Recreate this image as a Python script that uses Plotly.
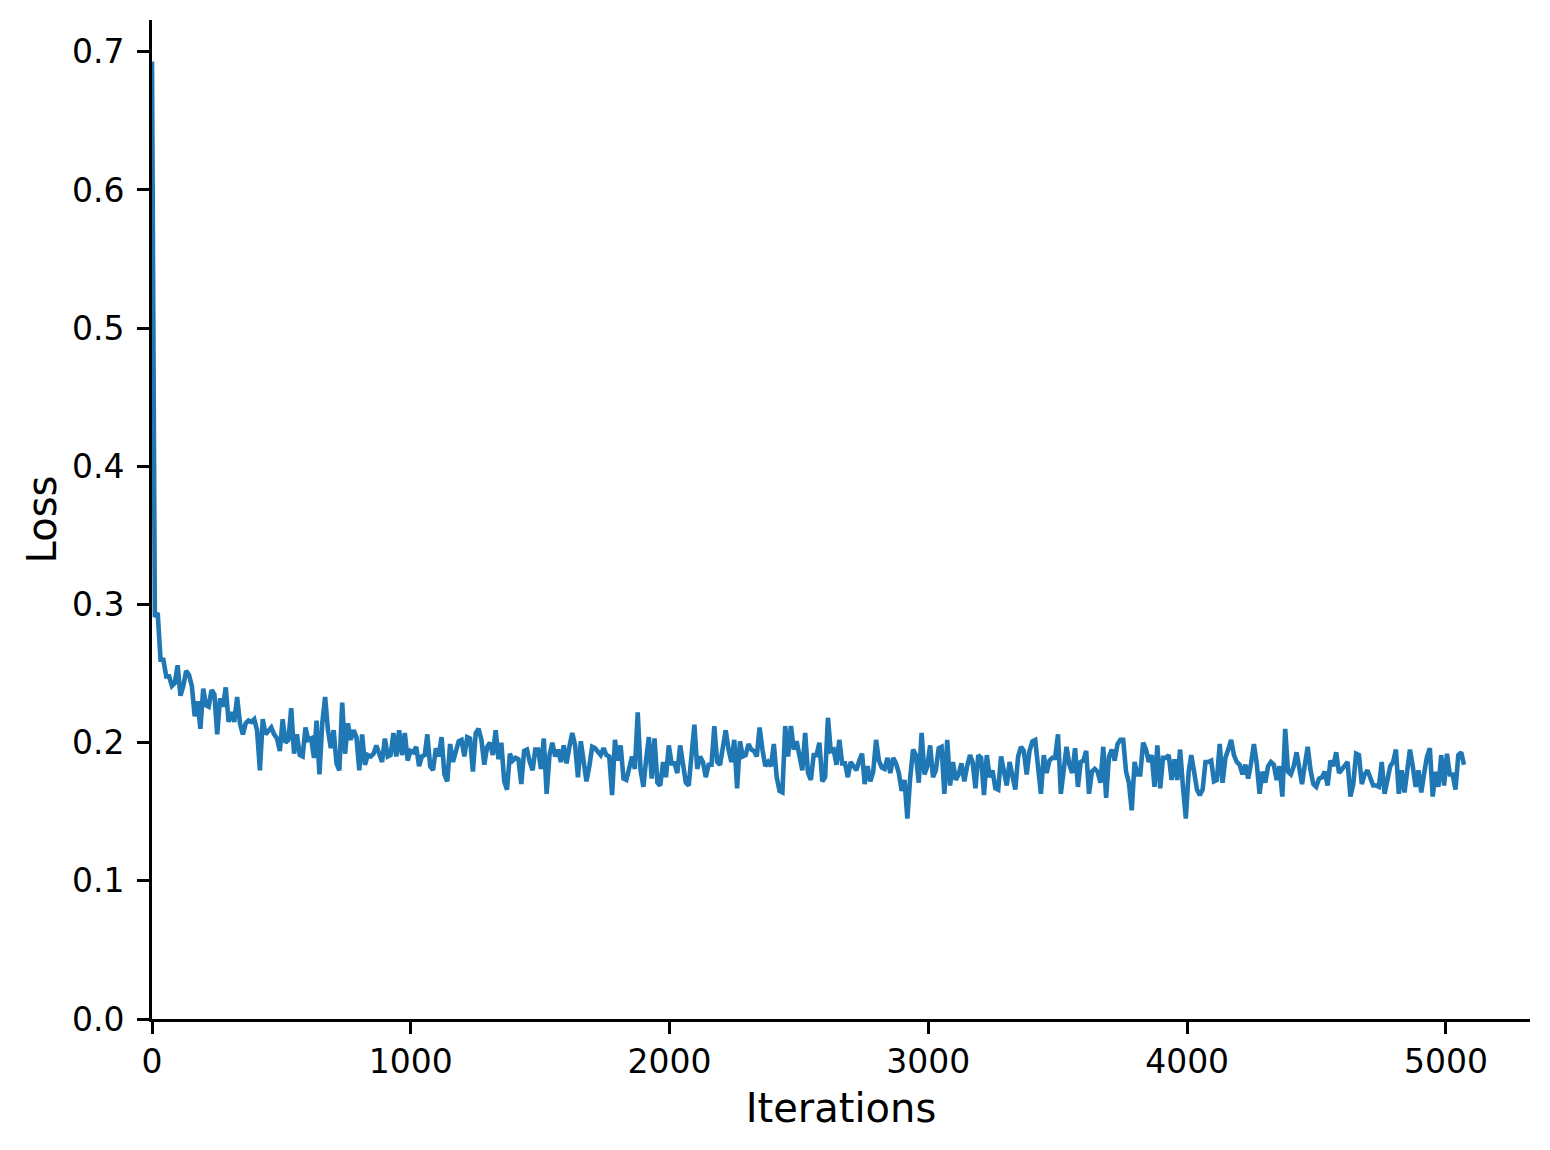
import plotly.graph_objects as go

loss = [
    0.693,
    # ~0-630
    0.291, 0.294, 0.260, 0.260, 0.248, 0.248, 0.241, 0.243, 0.256, 0.234,
    0.241, 0.252, 0.249, 0.241, 0.219, 0.230, 0.210, 0.239, 0.227, 0.226,
    0.238, 0.235, 0.206, 0.232, 0.226, 0.240, 0.215, 0.222, 0.215, 0.233,
    0.214, 0.206, 0.214, 0.216, 0.215, 0.217, 0.209, 0.180, 0.217, 0.206,
    0.208, 0.211, 0.206, 0.203, 0.194, 0.217, 0.200, 0.202, 0.225, 0.192,
    0.206, 0.191, 0.190, 0.211, 0.202, 0.203, 0.189,
    # ~630-1250
    0.216, 0.177, 0.214, 0.233, 0.209, 0.196, 0.209, 0.185, 0.180, 0.229,
    0.192, 0.214, 0.202, 0.209, 0.204, 0.180, 0.206, 0.184, 0.191, 0.190,
    0.192, 0.198, 0.192, 0.186, 0.203, 0.190, 0.191, 0.207, 0.190, 0.209,
    0.191, 0.207, 0.187, 0.194, 0.193, 0.197, 0.183, 0.190, 0.191, 0.206,
    0.183, 0.180, 0.196, 0.190, 0.204, 0.177, 0.172, 0.199, 0.186, 0.195,
    0.201, 0.202, 0.190, 0.204, 0.203, 0.179, 0.207,
    # ~1250-1880
    0.210, 0.202, 0.184, 0.197, 0.200, 0.191, 0.209, 0.188, 0.200, 0.172,
    0.166, 0.192, 0.187, 0.189, 0.188, 0.170, 0.194, 0.195, 0.186, 0.180,
    0.195, 0.195, 0.181, 0.203, 0.163, 0.191, 0.200, 0.190, 0.195, 0.186,
    0.198, 0.185, 0.197, 0.207, 0.198, 0.175, 0.201, 0.183, 0.172, 0.183,
    0.197, 0.196, 0.194, 0.191, 0.196, 0.191, 0.190, 0.162, 0.202, 0.187,
    0.198, 0.174, 0.173, 0.181, 0.190, 0.181, 0.222,
    # ~1880-2500
    0.180, 0.168, 0.187, 0.204, 0.174, 0.203, 0.171, 0.169, 0.186, 0.175,
    0.198, 0.185, 0.185, 0.178, 0.198, 0.184, 0.171, 0.169, 0.195, 0.213,
    0.181, 0.190, 0.186, 0.175, 0.184, 0.184, 0.212, 0.186, 0.184, 0.195,
    0.209, 0.195, 0.186, 0.202, 0.167, 0.201, 0.190, 0.191, 0.199, 0.195,
    0.194, 0.190, 0.211, 0.195, 0.183, 0.186, 0.183, 0.199, 0.175, 0.165,
    0.164, 0.212, 0.190, 0.212, 0.195,
    # ~2500-3120
    0.201, 0.191, 0.180, 0.207, 0.178, 0.173, 0.191, 0.191, 0.200, 0.172,
    0.175, 0.218, 0.194, 0.195, 0.184, 0.202, 0.185, 0.185, 0.175, 0.186,
    0.183, 0.180, 0.187, 0.192, 0.170, 0.183, 0.172, 0.179, 0.202, 0.187,
    0.182, 0.181, 0.189, 0.178, 0.189, 0.185, 0.178, 0.165, 0.173, 0.145,
    0.175, 0.195, 0.191, 0.171, 0.207, 0.177, 0.183, 0.198, 0.175, 0.180,
    0.196, 0.197, 0.163, 0.202, 0.169, 0.186,
    # ~3120-3740
    0.173, 0.177, 0.185, 0.172, 0.183, 0.191, 0.186, 0.167, 0.191, 0.189,
    0.162, 0.191, 0.175, 0.180, 0.167, 0.166, 0.190, 0.179, 0.169, 0.186,
    0.177, 0.166, 0.190, 0.197, 0.194, 0.177, 0.194, 0.201, 0.202, 0.180,
    0.163, 0.191, 0.178, 0.187, 0.189, 0.189, 0.206, 0.163, 0.179, 0.197,
    0.184, 0.178, 0.196, 0.168, 0.186, 0.187, 0.194, 0.163, 0.179, 0.181,
    0.179, 0.171, 0.197, 0.160, 0.190, 0.195,
    # ~3740-4360
    0.187, 0.199, 0.202, 0.202, 0.179, 0.171, 0.151, 0.186, 0.177, 0.177,
    0.200, 0.195, 0.186, 0.191, 0.168, 0.198, 0.167, 0.189, 0.189, 0.191,
    0.173, 0.188, 0.173, 0.195, 0.168, 0.145, 0.179, 0.191, 0.179, 0.166,
    0.162, 0.166, 0.186, 0.186, 0.187, 0.172, 0.173, 0.199, 0.171, 0.189,
    0.195, 0.202, 0.191, 0.186, 0.184, 0.177, 0.184, 0.174, 0.185, 0.199,
    0.185, 0.163, 0.179, 0.171, 0.183, 0.186, 0.184, 0.173,
    # ~4360-5070
    0.183, 0.161, 0.210, 0.179, 0.177, 0.183, 0.193, 0.183, 0.170, 0.184,
    0.197, 0.180, 0.170, 0.168, 0.174, 0.175, 0.179, 0.169, 0.187, 0.183,
    0.193, 0.178, 0.181, 0.184, 0.186, 0.161, 0.170, 0.192, 0.191, 0.170,
    0.177, 0.180, 0.175, 0.169, 0.169, 0.168, 0.186, 0.163, 0.173, 0.183,
    0.186, 0.195, 0.163, 0.180, 0.164, 0.179, 0.195, 0.183, 0.168, 0.180,
    0.164, 0.178, 0.190, 0.196, 0.161, 0.179, 0.168, 0.191, 0.169, 0.192,
    0.177, 0.177, 0.166, 0.191, 0.193, 0.184,
]
last_iteration = 5070
iterations = [round(i * last_iteration / (len(loss) - 1)) for i in range(len(loss))]

x_ticks = [0, 1000, 2000, 3000, 4000, 5000]
y_ticks = [0.0, 0.1, 0.2, 0.3, 0.4, 0.5, 0.6, 0.7]
y_tick_labels = ["0.0", "0.1", "0.2", "0.3", "0.4", "0.5", "0.6", "0.7"]

fig = go.Figure()
fig.add_trace(go.Scatter(
    x=iterations, y=loss, mode="lines",
    line=dict(color="#1f77b4", width=4.6),
    showlegend=False, hoverinfo="x+y",
))

font_family = "DejaVu Sans"
axis_common = dict(
    showline=True, linecolor="black", linewidth=2.7,
    ticks="outside", ticklen=12, tickwidth=2.7, tickcolor="black",
    showgrid=False, zeroline=False, mirror=False,
    tickfont=dict(family=font_family, size=33, color="black"),
)

fig.update_layout(
    width=1542, height=1142,
    margin=dict(l=144, r=20, t=12, b=131),
    paper_bgcolor="white", plot_bgcolor="white",
    xaxis=dict(
        range=[0, 5325], tickvals=x_ticks,
        title=dict(text="Iterations", font=dict(family=font_family, size=40, color="black"), standoff=14),
        ticklabelstandoff=0,
        **axis_common,
    ),
    yaxis=dict(
        range=[0, 0.723], tickvals=y_ticks, ticktext=y_tick_labels,
        title=dict(text="Loss", font=dict(family=font_family, size=40, color="black"), standoff=4),
        ticklabelstandoff=6,
        **axis_common,
    ),
)

fig.write_html("out.html")
